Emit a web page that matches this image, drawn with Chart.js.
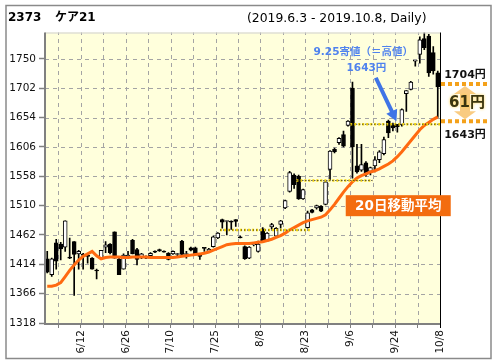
<!DOCTYPE html>
<html><head><meta charset="utf-8">
<script src="https://cdn.jsdelivr.net/npm/chart.js@4.4.1/dist/chart.umd.min.js"></script>
<style>html,body{margin:0;padding:0;background:#fff;overflow:hidden}</style>
</head><body><canvas id="c" width="496" height="364"></canvas>
<script>
const dates = ['6/3','6/4','6/5','6/6','6/7','6/10','6/11','6/12','6/13','6/14','6/17','6/18','6/19','6/20','6/21','6/24','6/25','6/26','6/27','6/28',
'7/1','7/2','7/3','7/4','7/5','7/8','7/9','7/10','7/11','7/12','7/16','7/17','7/18','7/19','7/22','7/23','7/24','7/25','7/26','7/29','7/30','7/31',
'8/1','8/2','8/5','8/6','8/7','8/8','8/9','8/13','8/14','8/15','8/16','8/19','8/20','8/21','8/22','8/23','8/26','8/27','8/28','8/29','8/30',
'9/2','9/3','9/4','9/5','9/6','9/9','9/10','9/11','9/12','9/13','9/17','9/18','9/19','9/20','9/24','9/25','9/26','9/27','9/30',
'10/1','10/2','10/3','10/4','10/7','10/8'];
const opens  = [1423,1397,1449,1447,1442,1425,1451,1431,1430,1428,1424,1404,1424,1442,1447,1467,1422,1406,1426,1453,
1438,1425,1427,1428,1435,1438,1435,1432,1431,1430,1452,1430,1441,1441,1428,1441,1435,1443,1457,1487,1484,1484,
1487,1459,1443,1424,1446,1435,1472,1452,1475,1460,1479,1506,1533,1560,1558,1521,1474,1503,1506,1509,1512,
1569,1602,1613,1626,1641,1702,1575,1568,1580,1566,1575,1585,1595,1648,1642,1643,1642,1693,1700,
1746,1757,1783,1787,1760,1727];
const highs  = [1435,1424,1455,1450,1485,1457,1451,1437,1432,1429,1425,1406,1437,1451,1448,1467,1424,1431,1435,1455,
1440,1432,1428,1433,1436,1439,1436,1433,1436,1432,1453,1435,1442,1442,1428,1441,1440,1460,1466,1488,1485,1485,
1487,1460,1444,1443,1449,1452,1474,1466,1481,1474,1486,1519,1566,1562,1560,1537,1501,1504,1511,1510,1550,
1600,1604,1621,1632,1649,1712,1610,1610,1582,1573,1590,1600,1622,1650,1645,1643,1668,1698,1713,
1747,1786,1793,1790,1770,1730];
const lows   = [1400,1394,1406,1421,1435,1423,1363,1406,1406,1416,1406,1390,1422,1433,1431,1424,1397,1406,1424,1431,
1413,1423,1423,1427,1433,1435,1434,1421,1430,1428,1428,1424,1436,1430,1422,1435,1434,1442,1456,1473,1462,1471,
1476,1457,1422,1423,1444,1434,1450,1451,1472,1458,1473,1505,1532,1538,1520,1520,1473,1498,1504,1500,1511,
1552,1596,1610,1606,1640,1555,1563,1566,1558,1560,1565,1580,1593,1621,1632,1630,1640,1664,1699,
1738,1743,1765,1721,1725,1654];
const closes = [1401,1423,1419,1439,1485,1424,1430,1435,1429,1427,1406,1403,1437,1446,1433,1424,1397,1429,1429,1431,
1422,1431,1424,1432,1434,1436,1434,1422,1435,1431,1430,1431,1437,1430,1427,1440,1439,1459,1465,1483,1484,1483,
1484,1457,1423,1442,1447,1447,1452,1465,1479,1473,1485,1518,1564,1544,1521,1536,1498,1499,1510,1501,1549,
1599,1598,1620,1607,1648,1606,1565,1577,1561,1572,1585,1598,1618,1629,1637,1639,1667,1698,1712,
1746,1781,1768,1727,1730,1704];
const ma20 = [1378,1378,1380,1384,1394,1404,1413,1421,1427,1431,1435,1428,1423,1425,1426,1426,1426,1425,1425,1426,
1426,1426,1426,1425,1425,1425,1425,1425,1425,1426,1427,1428,1429,1430,1431,1432,1434,1437,1440,1443,1446,1447,
1448,1448,1448,1448,1449,1450,1451,1453,1455,1458,1461,1465,1470,1474,1478,1482,1485,1487,1489,1491,1495,
1503,1512,1522,1532,1541,1549,1555,1559,1562,1565,1567,1570,1574,1578,1583,1590,1598,1607,1616,
1625,1634,1641,1646,1651,1655];
const yTickValues = [1318,1366,1414,1462,1510,1558,1606,1654,1702,1750];
const xTickLabels = ['6/12','6/26','7/10','7/25','8/8','8/23','9/6','9/24','10/8'];
// resistance levels (value, from date, to date)
const levelValues = [1470, 1551, 1643];
const levelFrom = ['7/29','8/22','9/9'];
const levelTo = ['8/26','9/13','10/8'];
const noteHigh = 1643, noteClose = 1704;

const FONT = '"DejaVu Sans", "Noto Sans CJK JP", sans-serif';
const idx = d => dates.indexOf(d);
const gridVals = [];
for (let v = 2.5; v <= dates.length - 0.5; v += 5) gridVals.push(v);

const levelSets = [];
levelValues.forEach((v, k) => {
  const pts = [{x: idx(levelFrom[k]) - 0.5, y: v}, {x: idx(levelTo[k]) + 0.5, y: v}];
  levelSets.push({type:'line', data: pts, borderColor:'#F2D30A', borderWidth:2.5, borderDash:[2,2], pointRadius:0, order:0});
  levelSets.push({type:'line', data: pts, borderColor:'#222', borderWidth:1, borderDash:[1,2], pointRadius:0, order:-1});
});

const deco = {
  id: 'deco',
  beforeDraw(chart) {
    const {ctx, chartArea: a} = chart;
    ctx.save();
    ctx.fillStyle = '#fff'; ctx.fillRect(0, 0, chart.width, chart.height);
    ctx.fillStyle = '#FFFFDC'; ctx.fillRect(a.left, a.top, a.right - a.left, a.bottom - a.top);
    ctx.restore();
  },
  beforeDatasetsDraw(chart) {
    const {ctx, chartArea: a, scales: {x, y}} = chart;
    ctx.save();
    ctx.strokeStyle = '#a4a4a4'; ctx.lineWidth = 1; ctx.setLineDash([4, 4]);
    x.ticks.forEach(t => {
      const px = Math.round(x.getPixelForValue(t.value)) + 0.5;
      if (px >= a.right - 1) return;
      ctx.beginPath(); ctx.moveTo(px, a.bottom); ctx.lineTo(px, a.top); ctx.stroke();
    });
    y.ticks.forEach(t => {
      const py = Math.round(y.getPixelForValue(t.value)) + 0.5;
      if (py >= a.bottom - 1) return;
      ctx.beginPath(); ctx.moveTo(a.left, py); ctx.lineTo(a.right, py); ctx.stroke();
    });
    ctx.restore();
  },
  afterDraw(chart) {
    const {ctx, chartArea: a, scales: {x, y}} = chart;
    ctx.save();
    // frame
    ctx.strokeStyle = '#8a8a8a'; ctx.lineWidth = 1.5;
    ctx.strokeRect(6, 5.5, 485, 353);
    ctx.strokeStyle = '#cfcfcf'; ctx.lineWidth = 1;
    ctx.beginPath(); ctx.moveTo(a.left, a.top + 0.5); ctx.lineTo(a.right, a.top + 0.5); ctx.stroke();
    ctx.strokeStyle = '#000'; ctx.lineWidth = 1;
    ctx.beginPath(); ctx.moveTo(a.right + 0.5, a.top); ctx.lineTo(a.right + 0.5, a.bottom + 5); ctx.stroke();
    ctx.strokeStyle = '#808080'; ctx.lineWidth = 2;
    ctx.beginPath(); ctx.moveTo(a.left, a.top); ctx.lineTo(a.left, a.bottom + 1); ctx.lineTo(a.right, a.bottom + 1); ctx.stroke();

    // titles
    ctx.fillStyle = '#000'; ctx.textBaseline = 'alphabetic'; ctx.textAlign = 'left';
    ctx.font = 'bold 12px ' + FONT;
    ctx.fillText('2373', 8, 21);
    ctx.fillText('ケア21', 55, 21);
    ctx.font = '12.4px ' + FONT;
    ctx.fillText('(2019.6.3 - 2019.10.8, Daily)', 247, 22);

    // blue note
    ctx.fillStyle = '#4F82EE'; ctx.textAlign = 'center';
    ctx.font = 'bold 10.5px ' + FONT;
    ctx.fillText('9.25寄値（＝高値）', x.getPixelForValue(70.4), 55);
    ctx.fillText(noteHigh + '円', x.getPixelForValue(71.1), 71);
    const ax0 = x.getPixelForValue(73.2), ay0 = y.getPixelForValue(1719);
    const ax1 = x.getPixelForValue(77.8), ay1 = y.getPixelForValue(1648);
    const ang = Math.atan2(ay1 - ay0, ax1 - ax0);
    ctx.strokeStyle = '#3F74E6'; ctx.fillStyle = '#3F74E6'; ctx.lineWidth = 4;
    ctx.beginPath(); ctx.moveTo(ax0, ay0); ctx.lineTo(ax1 - 8 * Math.cos(ang), ay1 - 8 * Math.sin(ang)); ctx.stroke();
    ctx.beginPath();
    ctx.moveTo(ax1, ay1);
    ctx.lineTo(ax1 - 11 * Math.cos(ang) + 6 * Math.sin(ang), ay1 - 11 * Math.sin(ang) - 6 * Math.cos(ang));
    ctx.lineTo(ax1 - 11 * Math.cos(ang) - 6 * Math.sin(ang), ay1 - 11 * Math.sin(ang) + 6 * Math.cos(ang));
    ctx.closePath(); ctx.fill();

    // MA label box
    const bx = x.getPixelForValue(66.5), by = y.getPixelForValue(1527);
    ctx.fillStyle = '#F36C0F';
    ctx.fillRect(bx, by, 105, 21);
    ctx.fillStyle = '#fff'; ctx.font = 'bold 13.5px ' + FONT; ctx.textAlign = 'center'; ctx.textBaseline = 'middle';
    ctx.fillText('20日移動平均', bx + 52.5, by + 11);

    // right side gap annotation
    const yC = y.getPixelForValue(noteClose) - 3, yH = y.getPixelForValue(noteHigh) - 3;
    ctx.strokeStyle = '#F4A11A'; ctx.lineWidth = 4; ctx.setLineDash([4, 3]);
    ctx.beginPath(); ctx.moveTo(a.right + 1, yC); ctx.lineTo(a.right + 47, yC); ctx.stroke();
    ctx.beginPath(); ctx.moveTo(a.right + 1, yH); ctx.lineTo(a.right + 47, yH); ctx.stroke();
    ctx.setLineDash([]);
    const cx = a.right + 25;
    ctx.fillStyle = 'rgba(244,161,26,0.55)';
    ctx.beginPath();
    ctx.moveTo(cx, yC + 2); ctx.lineTo(cx + 11, yC + 10); ctx.lineTo(cx + 5, yC + 10); ctx.lineTo(cx + 5, yH - 10);
    ctx.lineTo(cx + 11, yH - 10); ctx.lineTo(cx, yH - 2); ctx.lineTo(cx - 11, yH - 10); ctx.lineTo(cx - 5, yH - 10);
    ctx.lineTo(cx - 5, yC + 10); ctx.lineTo(cx - 11, yC + 10); ctx.closePath(); ctx.fill();
    ctx.textAlign = 'center'; ctx.textBaseline = 'middle';
    ctx.fillStyle = '#111'; ctx.font = 'bold 11px ' + FONT;
    ctx.fillText(noteClose + '円', cx, yC - 9);
    ctx.fillText(noteHigh + '円', cx, yH + 14);
    ctx.font = 'bold 15px ' + FONT;
    ctx.shadowColor = '#FFD24D'; ctx.shadowBlur = 3;
    ctx.fillStyle = '#3b3510';
    ctx.fillText((noteClose - noteHigh) + '円', cx + 2, (yC + yH) / 2 + 1);
    ctx.restore();
  }
};

new Chart(document.getElementById('c'), {
  type: 'bar',
  data: {
    datasets: [
      {type:'line', data: ma20.map((v, i) => ({x: i, y: v})), borderColor:'#FF6A10', borderWidth:3, pointRadius:0, order:1},
      ...levelSets,
      {data: dates.map((d, i) => ({x: i, y: [opens[i], closes[i]]})), barThickness:4, minBarLength:1,
       backgroundColor: c => closes[c.dataIndex] < opens[c.dataIndex] ? '#000' : '#fff',
       borderColor:'#000', borderWidth:1, borderSkipped:false, grouped:false, order:2},
      {data: dates.map((d, i) => ({x: i, y: [lows[i], highs[i]]})), barThickness:1, backgroundColor:'#000', borderWidth:0, grouped:false, order:3}
    ]
  },
  options: {
    responsive: false, animation: false, devicePixelRatio: 1,
    layout: {padding: {left: 0, top: 32.5, right: 56, bottom: 0}},
    plugins: {legend: {display: false}, tooltip: {enabled: false}, title: {display: false}},
    scales: {
      x: {type:'linear', min:-0.5, max: dates.length - 0.5, offset:false,
          afterBuildTicks: s => { s.ticks = gridVals.map(v => ({value: v})); },
          afterFit: s => { s.height = 41; },
          grid: {offset:false, drawOnChartArea:false, color:'#808080', lineWidth:1, tickLength:5, tickColor:'#808080', tickWidth:1},
          border: {display:false},
          ticks: {autoSkip:false, minRotation:90, maxRotation:90, padding:2, color:'#111', font:{family: FONT, size: 10.5},
                  callback: v => { const d = dates[Math.round(v - 0.5)]; return xTickLabels.includes(d) ? d : ''; }}},
      y: {min:1318, max:1793,
          afterBuildTicks: s => { s.ticks = yTickValues.map(v => ({value: v})); },
          afterFit: s => { s.width = 45; },
          grid: {drawOnChartArea:false, color:'#808080', lineWidth:1, tickLength:6, tickColor:'#808080', tickWidth:1.5},
          border: {display:false},
          ticks: {padding:3, color:'#111', font:{family: FONT, size: 10.5}, callback: v => String(v)}}
    }
  },
  plugins: [deco]
});
</script></body></html>
